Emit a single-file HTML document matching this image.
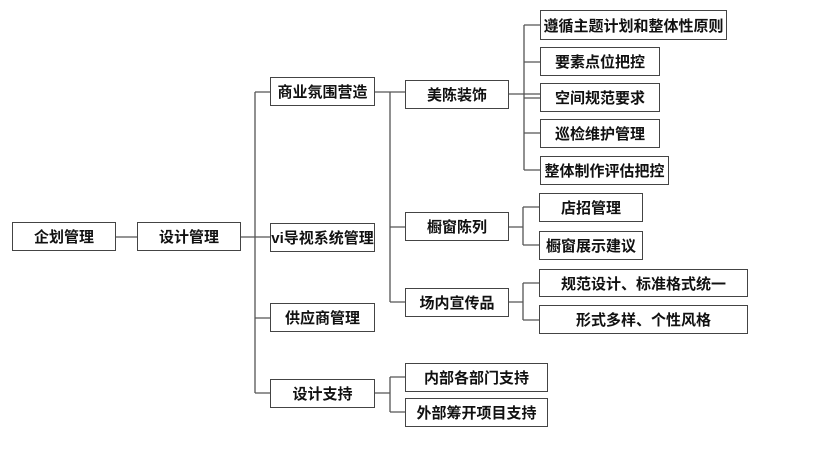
<html><head><style>
body{margin:0;width:831px;height:468px;background:#fff;position:relative;overflow:hidden;font-family:"Liberation Sans","Noto Sans CJK SC",sans-serif}
.b{position:absolute;box-sizing:border-box;border:1.5px solid #444;background:#fff;display:flex;align-items:center;justify-content:center;font-weight:bold;font-size:15px;color:#111;white-space:nowrap}
svg{position:absolute;left:0;top:0}
</style></head><body>
<svg width="831" height="468"><g stroke="#555" stroke-width="1.3" fill="none">
<path d="M116 237H137M241 237H270M255 92V393M255 92H270M255 318H270M255 393H270"/>
<path d="M375 92H405M390 92V302M390 227H405M390 302H405"/>
<path d="M509 94H540M524 25V170M524 25H540M524 62H540M524 98H540M524 133H540M524 170H540"/>
<path d="M509 227H523M523 207V245M523 207H539M523 245H539"/>
<path d="M509 302H523M523 283V320M523 283H539M523 320H539"/>
<path d="M375 393H390M390 377V412M390 377H405M390 412H405"/>
</g></svg>
<div class="b" style="left:12px;top:222px;width:104px;height:29px">企划管理</div>
<div class="b" style="left:137px;top:222px;width:104px;height:29px">设计管理</div>
<div class="b" style="left:270px;top:77px;width:105px;height:29px">商业氛围营造</div>
<div class="b" style="left:270px;top:223px;width:105px;height:29px">vi导视系统管理</div>
<div class="b" style="left:270px;top:303px;width:105px;height:29px">供应商管理</div>
<div class="b" style="left:270px;top:379px;width:105px;height:29px">设计支持</div>
<div class="b" style="left:405px;top:80px;width:104px;height:29px">美陈装饰</div>
<div class="b" style="left:405px;top:212px;width:104px;height:29px">橱窗陈列</div>
<div class="b" style="left:405px;top:288px;width:104px;height:29px">场内宣传品</div>
<div class="b" style="left:405px;top:363px;width:143px;height:29px">内部各部门支持</div>
<div class="b" style="left:405px;top:398px;width:143px;height:29px">外部筹开项目支持</div>
<div class="b" style="left:540px;top:10px;width:187px;height:30px">遵循主题计划和整体性原则</div>
<div class="b" style="left:540px;top:47px;width:120px;height:29px">要素点位把控</div>
<div class="b" style="left:540px;top:83px;width:120px;height:29px">空间规范要求</div>
<div class="b" style="left:540px;top:119px;width:120px;height:29px">巡检维护管理</div>
<div class="b" style="left:540px;top:156px;width:129px;height:29px">整体制作评估把控</div>
<div class="b" style="left:539px;top:193px;width:104px;height:29px">店招管理</div>
<div class="b" style="left:539px;top:231px;width:104px;height:29px">橱窗展示建议</div>
<div class="b" style="left:539px;top:269px;width:209px;height:28px">规范设计、标准格式统一</div>
<div class="b" style="left:539px;top:305px;width:209px;height:29px">形式多样、个性风格</div>
</body></html>
